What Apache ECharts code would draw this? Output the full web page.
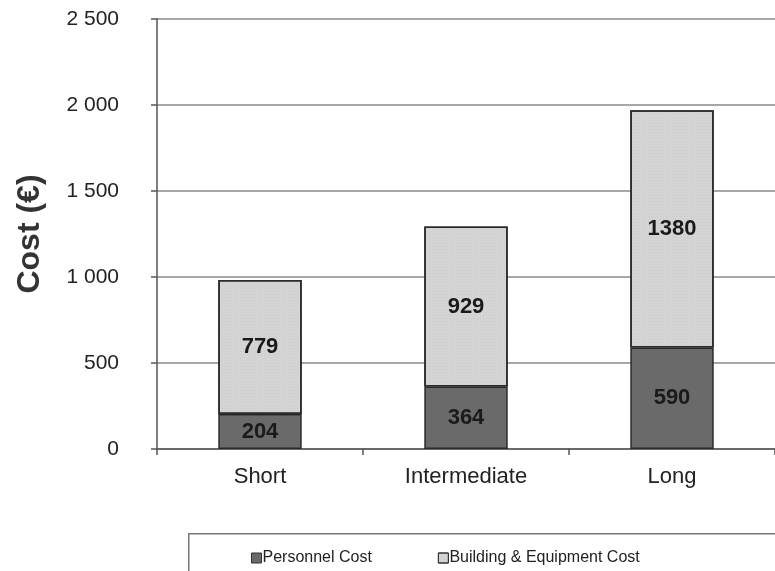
<!DOCTYPE html>
<html><head><meta charset="utf-8">
<script src="https://cdn.jsdelivr.net/npm/echarts@6/dist/echarts.min.js"></script>
<style>html,body{margin:0;padding:0;background:#fff}#c{width:775px;height:571px}</style>
</head><body><div id="c"></div>
<script>
const categories = ['Short', 'Intermediate', 'Long'];
const personnelCost = [204, 364, 590];
const buildingCost = [779, 929, 1380];
const seriesNames = ['Personnel Cost', 'Building & Equipment Cost'];

const chart = echarts.init(document.getElementById('c'), null, {renderer: 'canvas'});
const fmt = v => v >= 1000 ? Math.floor(v / 1000) + ' ' + String(v % 1000).padStart(3, '0') : String(v);
const font = 'Liberation Sans, Arial, sans-serif';
chart.setOption({
  animation: false,
  backgroundColor: '#fff',
  grid: {left: 157, right: -3, top: 19, bottom: 122, containLabel: false},
  graphic: [{
    type: 'rect', left: 188, top: 533, shape: {width: 620, height: 60},
    style: {fill: '#fff', stroke: '#777', lineWidth: 1.5}, z: 0
  }],
  legend: {
    data: seriesNames, left: 246, top: 545, itemGap: 66,
    itemWidth: 10, itemHeight: 10, icon: 'rect',
    itemStyle: {borderColor: '#333', borderWidth: 1},
    textStyle: {fontFamily: font, fontSize: 16, color: '#222', padding: [0, 0, 0, -4]}
  },
  xAxis: {
    type: 'category', data: categories,
    axisLine: {lineStyle: {color: '#555', width: 1.5}},
    axisTick: {show: true, length: 6, lineStyle: {color: '#555', width: 1.5}},
    axisLabel: {fontFamily: font, fontSize: 22, color: '#222', margin: 17}
  },
  yAxis: {
    type: 'value', min: 0, max: 2500, interval: 500,
    name: 'Cost (€)', nameLocation: 'middle', nameGap: 111,
    nameTextStyle: {fontFamily: font, fontSize: 32, fontWeight: 'bold', color: '#333'},
    axisLine: {show: true, lineStyle: {color: '#555', width: 1.5}},
    axisTick: {show: true, length: 6, lineStyle: {color: '#555', width: 1.5}},
    axisLabel: {fontFamily: font, fontSize: 21, color: '#222', margin: 38, formatter: fmt},
    splitLine: {lineStyle: {color: '#8a8a8a', width: 1.5}}
  },
  series: [{
    name: seriesNames[0], type: 'bar', stack: 'cost', barWidth: '40.5%',
    data: personnelCost,
    itemStyle: {color: '#6a6a6a', borderColor: '#2a2a2a', borderWidth: 1.5},
    label: {show: true, position: 'inside', fontFamily: font, fontSize: 22, fontWeight: 'bold', color: '#1a1a1a'}
  }, {
    name: seriesNames[1], type: 'bar', stack: 'cost', barWidth: '40.5%',
    data: buildingCost,
    itemStyle: {
      color: '#d4d4d4', borderColor: '#2a2a2a', borderWidth: 1.5,
      decal: {symbol: 'rect', symbolSize: 0.5, color: 'rgba(150,150,150,0.5)', dashArrayX: [1, 2], dashArrayY: [1, 2], rotation: 0}
    },
    label: {show: true, position: 'inside', fontFamily: font, fontSize: 22, fontWeight: 'bold', color: '#1a1a1a'}
  }]
});
</script></body></html>
